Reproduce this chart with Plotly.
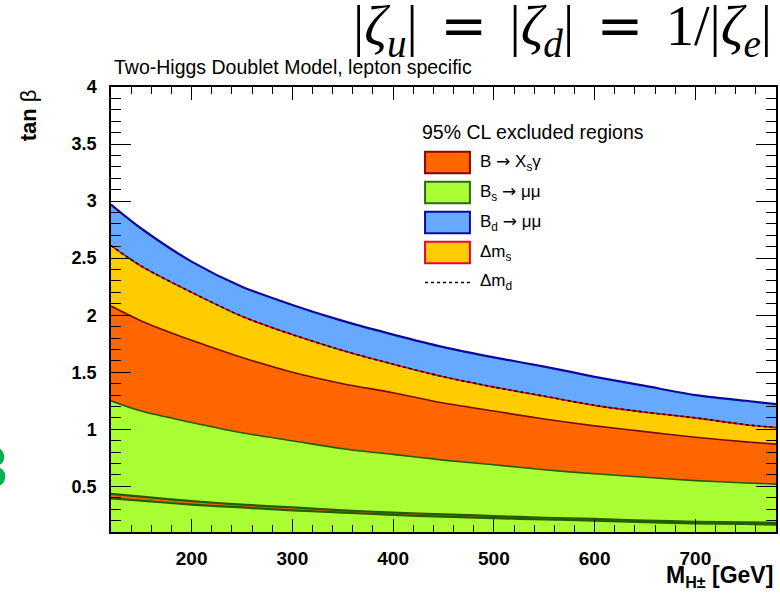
import plotly.graph_objects as go

# Charged Higgs mass grid (GeV)
mass = [120, 150, 200, 250, 300, 350, 400, 450, 500, 550, 600, 650, 700, 750, 780]

# Upper boundaries of the 95% CL excluded regions in tan(beta)
bd_mumu = [2.97, 2.76, 2.47, 2.25, 2.09, 1.95, 1.83, 1.72, 1.63, 1.55, 1.46, 1.38, 1.30, 1.25, 1.22]
delta_ms = [2.61, 2.43, 2.20, 1.99, 1.83, 1.69, 1.57, 1.46, 1.37, 1.29, 1.21, 1.15, 1.10, 1.04, 1.015]
delta_md = [2.61, 2.43, 2.20, 1.99, 1.83, 1.69, 1.57, 1.46, 1.37, 1.29, 1.21, 1.15, 1.10, 1.04, 1.015]
b_xsgamma = [2.08, 1.95, 1.78, 1.63, 1.50, 1.40, 1.32, 1.23, 1.16, 1.09, 1.03, 0.98, 0.93, 0.89, 0.87]
bs_mumu = [1.25, 1.16, 1.06, 0.97, 0.90, 0.83, 0.78, 0.73, 0.69, 0.645, 0.61, 0.58, 0.55, 0.53, 0.52]

# Narrow B -> Xs gamma strip at small tan(beta)
xsg_low_top = [0.435, 0.41, 0.37, 0.34, 0.315, 0.29, 0.27, 0.255, 0.24, 0.225, 0.215, 0.20, 0.19, 0.185, 0.18]
xsg_low_bot = [0.395, 0.375, 0.34, 0.315, 0.29, 0.27, 0.25, 0.235, 0.222, 0.21, 0.20, 0.187, 0.175, 0.17, 0.165]

x_ticks = [200, 300, 400, 500, 600, 700]
y_ticks = [0.5, 1, 1.5, 2, 2.5, 3, 3.5, 4]
y_labels = ["0.5", "1", "1.5", "2", "2.5", "3", "3.5", "4"]

GREEN = "#a9ff33"
ORANGE = "#ff6600"
YELLOW = "#ffcc00"
BLUE = "#66aaff"
GREEN_LINE = "#245c00"
XSG_LINE = "#7a0a0a"
DMS_LINE = "#e8002a"
BD_LINE = "#0a0aa0"

fig = go.Figure()

def band(y, fill, line_color, width=1.6, mode="tonexty"):
    fig.add_trace(go.Scatter(
        x=mass, y=y, mode="lines", fill=mode, fillcolor=fill,
        line=dict(color=line_color, width=width, shape="spline", smoothing=0.8),
        hoverinfo="skip", showlegend=False))

band(bs_mumu, GREEN, GREEN_LINE, mode="tozeroy")
band(b_xsgamma, ORANGE, XSG_LINE)
band(delta_ms, YELLOW, DMS_LINE)
band(bd_mumu, BLUE, BD_LINE, width=2.2)

# Delta m_d boundary (dotted) on top of Delta m_s
fig.add_trace(go.Scatter(
    x=mass, y=delta_md, mode="lines",
    line=dict(color="black", width=1.6, dash="dot", shape="spline", smoothing=0.8),
    hoverinfo="skip", showlegend=False))

# Low tan(beta) strip
fig.add_trace(go.Scatter(
    x=mass, y=xsg_low_bot, mode="lines",
    line=dict(color=GREEN_LINE, width=2.2, shape="spline", smoothing=0.8),
    hoverinfo="skip", showlegend=False))
fig.add_trace(go.Scatter(
    x=mass, y=xsg_low_top, mode="lines", fill="tonexty", fillcolor=ORANGE,
    line=dict(color=GREEN_LINE, width=2.2, shape="spline", smoothing=0.8),
    hoverinfo="skip", showlegend=False))

FONT = "Liberation Sans, Arial, Helvetica, sans-serif"
ARROW = "<span style='font-family:DejaVu Sans'>→</span>"

# Hand-built legend block (paper coordinates derived from pixel layout)
L, R, T, B = 111, 778, 87, 531.7
W, H = R - L, B - T

def px(xp):
    return (xp - L) / W

def py(yp):
    return (B - yp) / H

shapes = []
annotations = []

legend_items = [
    (f"B {ARROW} X<sub>s</sub>γ", ORANGE, "#8b0000", 151.7),
    (f"B<sub>s</sub> {ARROW} μμ", GREEN, "#2f6a10", 181.7),
    (f"B<sub>d</sub> {ARROW} μμ", BLUE, "#0a0aa0", 211.7),
    ("Δm<sub>s</sub>", YELLOW, "#e8003a", 241.7),
]
for text, fc, lc, top in legend_items:
    shapes.append(dict(type="rect", xref="paper", yref="paper",
                       x0=px(426), x1=px(471), y0=py(top + 21.5), y1=py(top),
                       fillcolor=fc, line=dict(color=lc, width=2)))
    annotations.append(dict(xref="paper", yref="paper", x=px(479), y=py(top + 11),
                            text=text, showarrow=False, xanchor="left", yanchor="middle",
                            font=dict(family=FONT, size=17, color="black")))
shapes.append(dict(type="line", xref="paper", yref="paper",
                   x0=px(426), x1=px(471), y0=py(282.3), y1=py(282.3),
                   line=dict(color="black", width=1.5, dash="dot")))
annotations.append(dict(xref="paper", yref="paper", x=px(479), y=py(282),
                        text="Δm<sub>d</sub>", showarrow=False, xanchor="left", yanchor="middle",
                        font=dict(family=FONT, size=17, color="black")))
annotations.append(dict(xref="paper", yref="paper", x=px(421), y=py(132),
                        text="95% CL excluded regions", showarrow=False,
                        xanchor="left", yanchor="middle",
                        font=dict(family=FONT, size=19.5, color="black")))

# Model label above frame
annotations.append(dict(xref="paper", yref="paper", x=px(112), y=py(80),
                        text="Two-Higgs Doublet Model, lepton specific", showarrow=False,
                        xanchor="left", yanchor="bottom",
                        font=dict(family=FONT, size=19.5, color="black")))

# Coupling relation
EQ = "&#8201;&#8201;<span style='font-family:DejaVu Serif'>=</span>&#8201;&#8201;"
annotations.append(dict(xref="paper", yref="paper", x=px(776), y=py(29),
                        text=f"|<i>ζ</i><sub><i>u</i></sub>|{EQ}|<i>ζ</i><sub><i>d</i></sub>|{EQ}1/|<i>ζ</i><sub><i>e</i></sub>|",
                        showarrow=False, xanchor="right", yanchor="middle",
                        font=dict(family="Liberation Serif, DejaVu Serif, serif", size=56, color="black")))

# Axis titles
annotations.append(dict(xref="paper", yref="paper", x=px(28), y=py(87),
                        text="<b>tan</b> β", textangle=-90, showarrow=False,
                        xanchor="center", yanchor="top",
                        font=dict(family=FONT, size=22, color="black")))
annotations.append(dict(xref="paper", yref="paper", x=px(777), y=py(593),
                        text="<b>M<sub>H±</sub> [GeV]</b>", showarrow=False,
                        xanchor="right", yanchor="bottom",
                        font=dict(family=FONT, size=23, color="black")))

# Partially visible green numeral at left edge
annotations.append(dict(xref="paper", yref="paper", x=px(9), y=py(466),
                        text="<b>3</b>", showarrow=False, xanchor="right", yanchor="middle",
                        font=dict(family=FONT, size=58, color="#00b050")))

fig.update_layout(
    width=780, height=593,
    margin=dict(l=L, r=780 - R, t=T, b=593 - B),
    paper_bgcolor="white", plot_bgcolor="white",
    shapes=shapes, annotations=annotations,
    xaxis=dict(range=[120, 780], tickvals=x_ticks, ticks="inside", ticklen=13,
               tickwidth=1.3, tickcolor="black", showline=True, linecolor="black",
               linewidth=1.5, mirror="ticks", showgrid=False, zeroline=False,
               ticklabelstandoff=8,
               tickfont=dict(family=FONT, size=19, color="black", weight="bold"),
               minor=dict(dtick=20, tick0=0, ticks="inside", ticklen=7,
                          tickwidth=1.1, tickcolor="black", showgrid=False),
               layer="above traces"),
    yaxis=dict(range=[0.1, 4], tickvals=y_ticks, ticktext=y_labels, ticks="inside",
               ticklen=20, tickwidth=1.3, tickcolor="black", showline=True,
               linecolor="black", linewidth=1.5, mirror="ticks", showgrid=False,
               zeroline=False, ticklabelstandoff=9,
               tickfont=dict(family=FONT, size=18, color="black", weight="bold"),
               minor=dict(dtick=0.1, tick0=0, ticks="inside", ticklen=10,
                          tickwidth=1.1, tickcolor="black", showgrid=False),
               layer="above traces"),
)

fig.write_html("out.html")
